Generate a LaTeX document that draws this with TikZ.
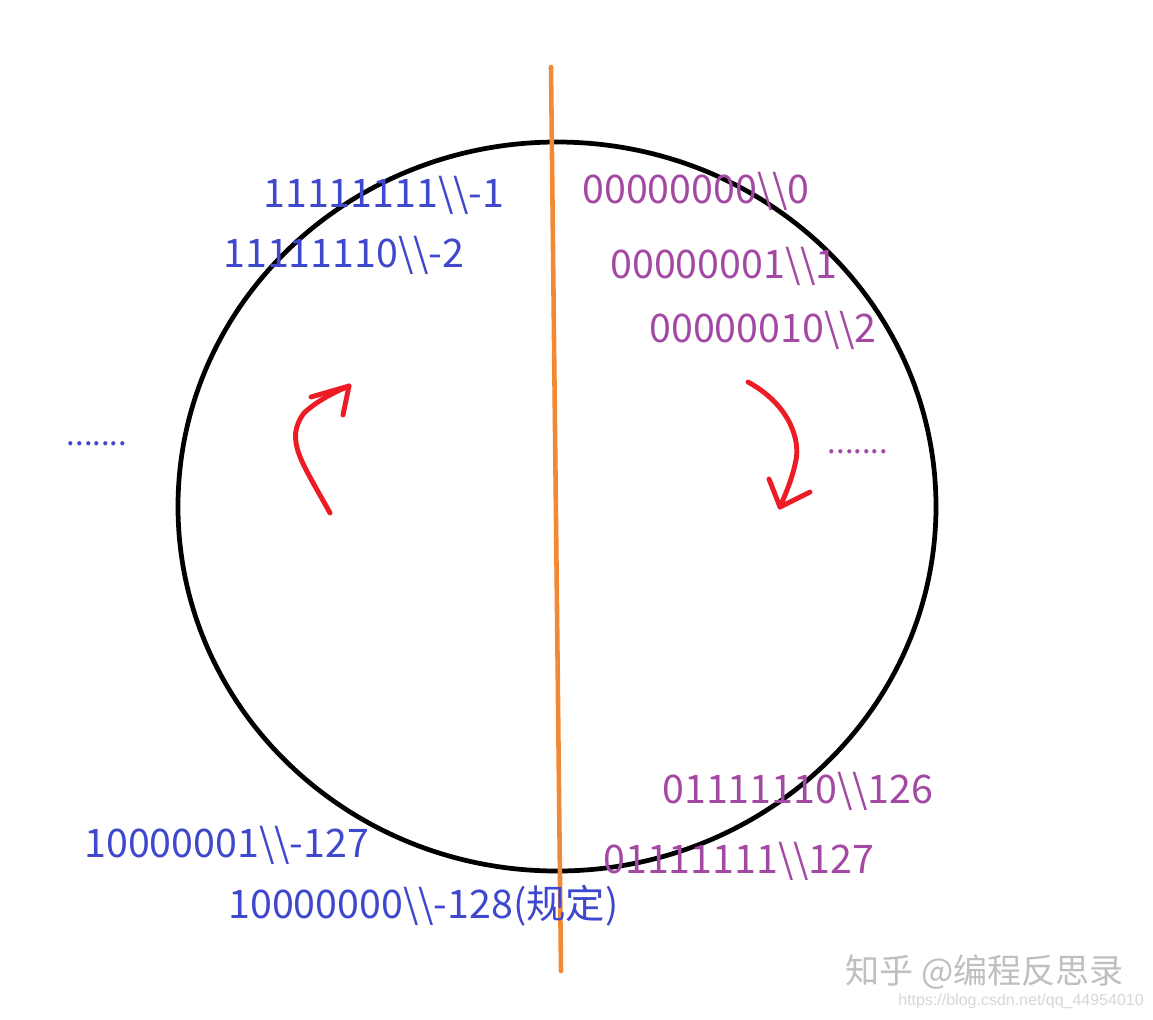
\documentclass[tikz,border=0pt]{standalone}
\usepackage{fontspec}
\setmainfont{Noto Sans CJK SC}
\newfontfamily\urlfont{Liberation Sans}
\usetikzlibrary{arrows}

\definecolor{negblue}{RGB}{63,72,204}
\definecolor{pospurple}{RGB}{163,73,164}
\definecolor{turnred}{RGB}{237,28,36}
\definecolor{splitorange}{RGB}{242,137,52}

\begin{document}
\begin{tikzpicture}[x=0.02cm, y=-0.02cm,
        code/.style={anchor=base west, inner sep=0pt, font=\fontsize{22.4}{26}\selectfont},
        negcode/.style={code, text=negblue},
        poscode/.style={code, text=pospurple},
        gap/.style={inner sep=0pt, anchor=center, font=\fontsize{17.6}{20}\selectfont},
        turn/.style={turnred, line width=2.8pt, line cap=round, line join=round}]
        \useasboundingbox (0,0) rectangle (1153,1019);

        % ring
        \draw[black, line width=2.7pt] (557,506.5) ellipse [x radius=379, y radius=364.5];

        % dividing line
        \coordinate (top) at (551,67);
        \coordinate (bottom) at (561,971);
        \draw[splitorange, line width=2.6pt, line cap=round] (top) -- (bottom);

        % negative side
        \node[negcode] (m1) at (263,207) {11111111\textbackslash\textbackslash-1};
        \node[negcode] (m2) at (223,267) {11111110\textbackslash\textbackslash-2};
        \node[negcode] (m127) at (84,857) {10000001\textbackslash\textbackslash-127};
        \node[negcode] (m128) at (228,918) {10000000\textbackslash\textbackslash-128(规定)};
        \node[gap, text=negblue] (ldots) at (97,444) {.......};

        % positive side
        \node[poscode] (p0) at (582,203) {00000000\textbackslash\textbackslash0};
        \node[poscode] (p1) at (610,278) {00000001\textbackslash\textbackslash1};
        \node[poscode] (p2) at (649,342) {00000010\textbackslash\textbackslash2};
        \node[poscode] (p126) at (662,803) {01111110\textbackslash\textbackslash126};
        \node[poscode] (p127) at (603,873) {01111111\textbackslash\textbackslash127};
        \node[gap, text=pospurple] (rdots) at (858,452) {.......};

        % direction arrows
        \draw[turn] (330,513) .. controls (302,462) and (284,440) .. (304,413) .. controls (318,400) and (335,392) .. (349,386);
        \draw[turn] (311,397) -- (349,386) -- (343,415);
        \draw[turn] (748,382) .. controls (790,405) and (800,440) .. (796,460) .. controls (792,480) and (785,495) .. (780,507);
        \draw[turn] (769,479) -- (780,507) -- (810,492);

        % watermark
        \node[anchor=base west, inner sep=0pt, text=black!25, font=\fontsize{19.4}{22}\selectfont] (mark) at (845,983) {知乎 @编程反思录};
        \node[anchor=base west, inner sep=0pt, text=black!16, font=\urlfont\fontsize{9.1}{11}\selectfont] (url) at (898,1005) {https://blog.csdn.net/qq\_44954010};
    \end{tikzpicture}
\end{document}
